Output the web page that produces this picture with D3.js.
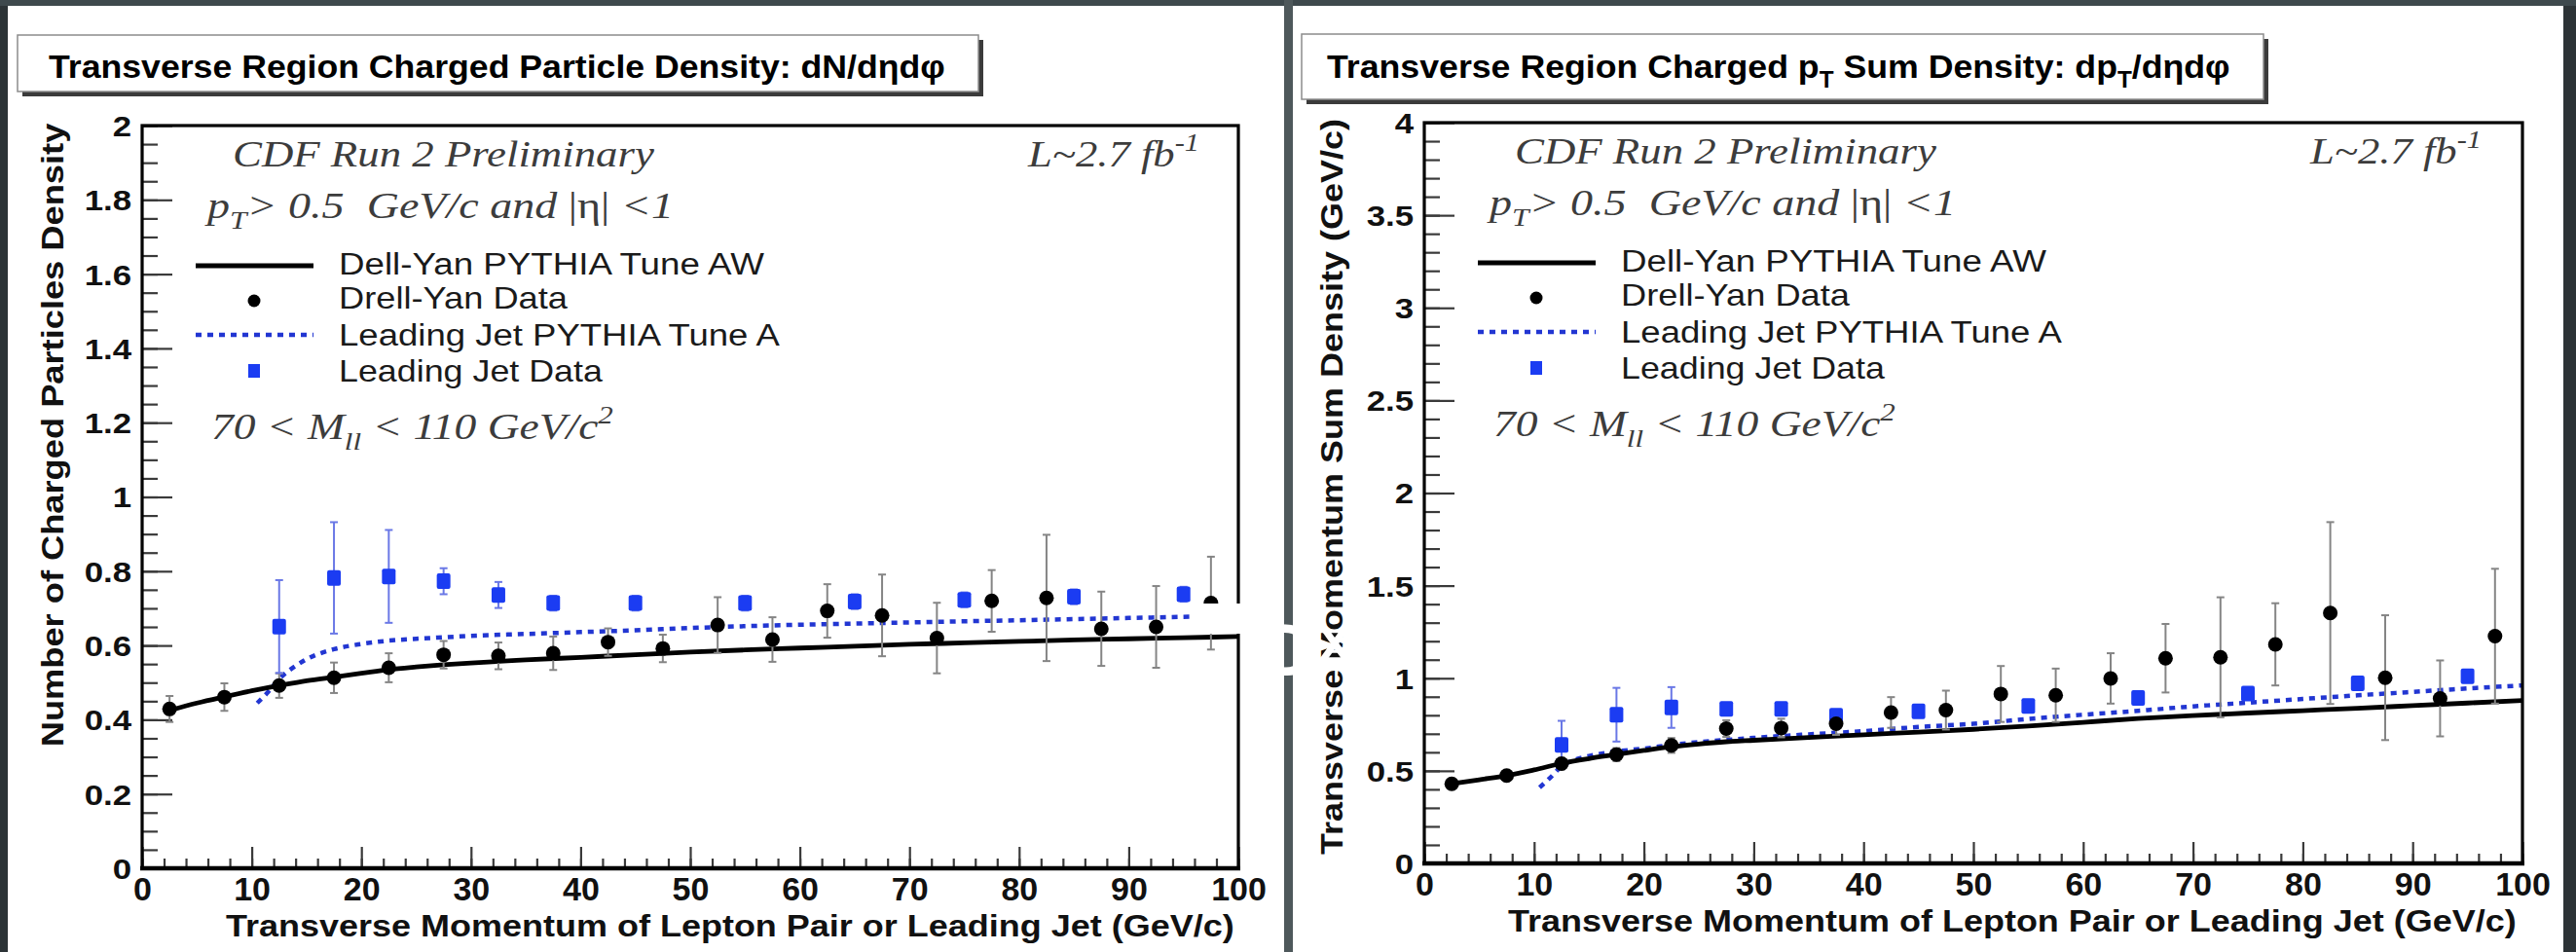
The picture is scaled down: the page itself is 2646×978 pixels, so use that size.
<!DOCTYPE html>
<html><head><meta charset="utf-8">
<script src="https://cdn.jsdelivr.net/npm/d3@7"></script>
<style>html,body{margin:0;padding:0;background:#2f3639;overflow:hidden}</style>
</head><body>
<svg id="c" width="2646" height="978"></svg>
<script>
// ---------------- DATA ----------------
const xTicks = [0, 10, 20, 30, 40, 50, 60, 70, 80, 90, 100];
const xTickLabels = ["0", "10", "20", "30", "40", "50", "60", "70", "80", "90", "100"];
const leftYTicks = [0, 0.2, 0.4, 0.6, 0.8, 1, 1.2, 1.4, 1.6, 1.8, 2];
const leftYTickLabels = ["0", "0.2", "0.4", "0.6", "0.8", "1", "1.2", "1.4", "1.6", "1.8", "2"];
const rightYTicks = [0, 0.5, 1, 1.5, 2, 2.5, 3, 3.5, 4];
const rightYTickLabels = ["0", "0.5", "1", "1.5", "2", "2.5", "3", "3.5", "4"];

const dyBinCenters = [2.5, 7.5, 12.5, 17.5, 22.5, 27.5, 32.5, 37.5, 42.5, 47.5, 52.5, 57.5, 62.5, 67.5, 72.5, 77.5, 82.5, 87.5, 92.5, 97.5];
const ljBinCenters = [12.5, 17.5, 22.5, 27.5, 32.5, 37.5, 45, 55, 65, 75, 85, 95];

// Left: charged particle density
const dyDensity    = [0.429, 0.461, 0.492, 0.513, 0.540, 0.575, 0.572, 0.579, 0.609, 0.592, 0.655, 0.616, 0.693, 0.681, 0.620, 0.720, 0.728, 0.645, 0.650, 0.714];
const dyDensityErr = [0.035, 0.037, 0.033, 0.041, 0.039, 0.037, 0.036, 0.045, 0.037, 0.037, 0.075, 0.060, 0.072, 0.110, 0.095, 0.083, 0.170, 0.100, 0.110, 0.125];
const ljDensity    = [0.651, 0.782, 0.786, 0.773, 0.736, 0.714, 0.714, 0.714, 0.718, 0.723, 0.731, 0.738];
const ljDensityErr = [0.125, 0.150, 0.125, 0.035, 0.035, 0.020, 0.020, 0.020, 0.020, 0.020, 0.020, 0.020];

// Right: charged pT sum density
const dySum    = [0.430, 0.474, 0.539, 0.588, 0.637, 0.728, 0.731, 0.754, 0.815, 0.828, 0.915, 0.908, 0.999, 1.108, 1.113, 1.183, 1.352, 1.003, 0.891, 1.227];
const dySumErr = [0.020, 0.020, 0.030, 0.035, 0.040, 0.045, 0.050, 0.060, 0.083, 0.105, 0.151, 0.144, 0.136, 0.185, 0.324, 0.222, 0.491, 0.337, 0.205, 0.364];
const ljSum    = [0.640, 0.803, 0.842, 0.835, 0.835, 0.798, 0.821, 0.850, 0.894, 0.917, 0.973, 1.011];
const ljSumErr = [0.130, 0.145, 0.110, 0.030, 0.030, 0.030, 0.020, 0.020, 0.020, 0.020, 0.020, 0.020];

// PYTHIA curves
const dyTuneX = [2.5, 5, 7.5, 10, 12.5, 15, 17.5, 20, 22.5, 25, 27.5, 30, 35, 40, 45, 50, 55, 60, 65, 70, 75, 80, 85, 90, 95, 100];
const dyTuneDensity = [0.425, 0.445, 0.462, 0.478, 0.492, 0.505, 0.515, 0.525, 0.535, 0.542, 0.548, 0.553, 0.561, 0.568, 0.575, 0.582, 0.588, 0.593, 0.598, 0.603, 0.607, 0.611, 0.615, 0.618, 0.621, 0.624];
const dyTuneSum = [0.430, 0.452, 0.474, 0.505, 0.540, 0.566, 0.588, 0.610, 0.630, 0.645, 0.657, 0.665, 0.680, 0.695, 0.709, 0.724, 0.742, 0.762, 0.782, 0.798, 0.812, 0.825, 0.838, 0.852, 0.866, 0.880];
const ljTuneX = [10.5, 11.5, 12.5, 14, 15, 17.5, 20, 22.5, 25, 27.5, 30, 35, 40, 45, 50, 55, 60, 65, 70, 75, 80, 85, 90, 95, 100];
const ljTuneDensity = [0.445, 0.475, 0.510, 0.545, 0.563, 0.590, 0.604, 0.613, 0.618, 0.622, 0.626, 0.631, 0.636, 0.641, 0.647, 0.652, 0.656, 0.659, 0.662, 0.665, 0.668, 0.671, 0.674, 0.677, 0.680];
const ljTuneSum = [0.410, 0.465, 0.525, 0.565, 0.580, 0.605, 0.620, 0.640, 0.655, 0.667, 0.678, 0.697, 0.714, 0.737, 0.754, 0.780, 0.803, 0.824, 0.848, 0.868, 0.888, 0.908, 0.926, 0.945, 0.961];

const legendLabels = ["Dell-Yan PYTHIA Tune AW", "Drell-Yan Data", "Leading Jet PYTHIA Tune A", "Leading Jet Data"];

// ---------------- DRAWING ----------------
const W = 2646, H = 978;
const SANS = "'Liberation Sans', Arial, Helvetica, sans-serif";
const SERIF = "'Liberation Serif', 'Times New Roman', serif";
const BLUE = "#1b3cf2", BLUE_LINE = "#2236d2", BLUE_ERR = "#6a78e6";
const svg = d3.select("#c");

svg.append("rect").attr("width", W).attr("height", H).attr("fill", "#2c3336");
svg.append("rect").attr("x", 0).attr("y", 0).attr("width", W).attr("height", 6).attr("fill", "#3e494d");
svg.append("rect").attr("x", 1319).attr("y", 0).attr("width", 9).attr("height", H).attr("fill", "#4e585b");
svg.append("rect").attr("x", 8).attr("y", 6).attr("width", 1311).attr("height", H - 6).attr("fill", "#fff");
svg.append("rect").attr("x", 1328).attr("y", 6).attr("width", 1305).attr("height", H - 6).attr("fill", "#fff");

function fitText(parent, parts, o) {
  const t = parent.append("text")
    .attr("font-family", o.family || SANS)
    .attr("font-size", o.size)
    .attr("font-weight", o.weight || "normal")
    .attr("font-style", o.style || "normal")
    .attr("fill", o.fill || "#000")
    .attr("text-anchor", o.anchor || "start")
    .style("white-space", "pre");
  let cur = 0;
  parts.forEach(p => {
    if (typeof p === "string") p = { t: p };
    const shift = p.sub ? o.size * 0.3 : (p.sup ? -o.size * 0.42 : 0);
    const ts = t.append("tspan").attr("dy", shift - cur).text(p.t);
    cur = shift;
    if (p.sub || p.sup) ts.attr("font-size", o.size * 0.68);
    if (p.style) ts.attr("font-style", p.style);
    if (p.family) ts.attr("font-family", p.family);
  });
  const w = t.node().getComputedTextLength();
  const sx = o.width ? o.width / w : 1;
  t.attr("transform", `translate(${o.x},${o.y})` + (o.rotate ? ` rotate(${o.rotate})` : "") + ` scale(${sx},1)`);
  return t;
}

function titleBox(x0, y0, x1, y1) {
  svg.append("rect").attr("x", x0 + 5).attr("y", y0 + 5).attr("width", x1 - x0).attr("height", y1 - y0).attr("fill", "#3b3b3b");
  svg.append("rect").attr("x", x0).attr("y", y0).attr("width", x1 - x0).attr("height", y1 - y0)
    .attr("fill", "#fff").attr("stroke", "#8c8c8c").attr("stroke-width", 1.5);
}

// Titles
titleBox(18, 36, 1005, 94);
fitText(svg, ["Transverse Region Charged Particle Density: dN/dηdφ"], { x: 50, y: 80, size: 34, weight: "bold", width: 921 });
titleBox(1337, 35, 2325, 102);
fitText(svg, ["Transverse Region Charged p", { t: "T", sub: true }, " Sum Density: dp", { t: "T", sub: true }, "/dηdφ"],
  { x: 1363, y: 80, size: 34, weight: "bold", width: 928 });

function drawPanel(cfg) {
  const g = svg.append("g");
  const x = d3.scaleLinear().domain([0, 100]).range([cfg.fx0, cfg.fx1]);
  const y = d3.scaleLinear().domain([0, cfg.yMax]).range([cfg.fy1, cfg.fy0]);
  const fx0 = cfg.fx0, fy0 = cfg.fy0;

  // axes: minor ticks
  const yMinor = d3.range(0, cfg.yMax + 1e-9, cfg.yMinorStep);
  const ayMinor = g.append("g").attr("transform", `translate(${fx0},0)`)
    .call(d3.axisLeft(y).tickValues(yMinor).tickSizeInner(-16).tickSizeOuter(0).tickFormat(""));
  const xMinor = d3.range(0, 100.001, 2);
  const axMinor = g.append("g").attr("transform", `translate(0,${cfg.fy1})`)
    .call(d3.axisBottom(x).tickValues(xMinor).tickSizeInner(-10).tickSizeOuter(0).tickFormat(""));
  // major
  const ay = g.append("g").attr("transform", `translate(${fx0},0)`)
    .call(d3.axisLeft(y).tickValues(cfg.yTicks).tickSizeInner(-31).tickSizeOuter(0).tickPadding(11)
      .tickFormat((d, i) => cfg.yTickLabels[i]));
  const ax = g.append("g").attr("transform", `translate(0,${cfg.fy1})`)
    .call(d3.axisBottom(x).tickValues(xTicks).tickSizeInner(-22).tickSizeOuter(0).tickPadding(9)
      .tickFormat((d, i) => xTickLabels[i]));
  [ayMinor, axMinor, ay, ax].forEach(a => {
    a.select(".domain").remove();
    a.selectAll(".tick line").attr("stroke", "#3a3a3a").attr("stroke-width", 2.2);
  });
  ay.selectAll(".tick text").attr("font-family", SANS).attr("font-weight", "bold").attr("font-size", 29)
    .attr("fill", "#111").attr("x", -11 / 1.2).attr("dy", "0.36em").attr("transform", "scale(1.2,1)");
  ax.selectAll(".tick text").attr("font-family", SANS).attr("font-weight", "bold").attr("font-size", 34)
    .attr("fill", "#111");

  // clip
  const cid = "clip" + cfg.id;
  svg.append("clipPath").attr("id", cid).append("rect")
    .attr("x", cfg.fx0).attr("y", cfg.fy0).attr("width", cfg.fx1 - cfg.fx0).attr("height", cfg.fy1 - cfg.fy0);
  const pg = g.append("g").attr("clip-path", `url(#${cid})`);

  const line = d3.line().x(d => x(d[0])).y(d => y(d[1])).curve(d3.curveMonotoneX);
  pg.append("path").datum(cfg.ljTuneX.map((v, i) => [v, cfg.ljTune[i]]))
    .attr("d", line).attr("fill", "none").attr("stroke", BLUE_LINE).attr("stroke-width", 4.5)
    .attr("stroke-dasharray", "6,6");
  pg.append("path").datum(cfg.dyTuneX.map((v, i) => [v, cfg.dyTune[i]]))
    .attr("d", line).attr("fill", "none").attr("stroke", "#000").attr("stroke-width", 4.8);

  function errBars(xs, vs, es, color) {
    xs.forEach((xv, i) => {
      const cx = x(xv), yt = y(vs[i] + es[i]), yb = y(vs[i] - es[i]);
      pg.append("line").attr("x1", cx).attr("x2", cx).attr("y1", yt).attr("y2", yb).attr("stroke", color).attr("stroke-width", 2);
      [yt, yb].forEach(yy => pg.append("line").attr("x1", cx - 4).attr("x2", cx + 4).attr("y1", yy).attr("y2", yy)
        .attr("stroke", color).attr("stroke-width", 2));
    });
  }
  errBars(dyBinCenters, cfg.dy, cfg.dyErr, "#858585");
  errBars(ljBinCenters, cfg.lj, cfg.ljErr, BLUE_ERR);

  pg.selectAll("rect.lj").data(ljBinCenters).enter().append("rect")
    .attr("x", d => x(d) - 7).attr("y", (d, i) => y(cfg.lj[i]) - 8).attr("width", 14).attr("height", 16)
    .attr("rx", 2).attr("fill", BLUE);
  pg.selectAll("circle.dy").data(dyBinCenters).enter().append("circle")
    .attr("cx", d => x(d)).attr("cy", (d, i) => y(cfg.dy[i])).attr("r", 7.5).attr("fill", "#000");

  // frame
  g.append("rect").attr("x", cfg.fx0).attr("y", cfg.fy0).attr("width", cfg.fx1 - cfg.fx0).attr("height", cfg.fy1 - cfg.fy0)
    .attr("fill", "none").attr("stroke", "#000").attr("stroke-width", 3.2);
  g.append("line").attr("x1", cfg.fx0 - 2).attr("x2", cfg.fx1 + 2).attr("y1", cfg.fy1).attr("y2", cfg.fy1)
    .attr("stroke", "#000").attr("stroke-width", 4.5);

  // annotations
  fitText(g, ["CDF Run 2 Preliminary"], { x: fx0 + 93, y: fy0 + 42, size: 38, family: SERIF, style: "italic", fill: "#3c3c3c", width: 433 });
  fitText(g, ["L~2.7 fb", { t: "-1", sup: true }], { x: fx0 + 910, y: fy0 + 42, size: 38, family: SERIF, style: "italic", fill: "#3c3c3c", width: 176 });
  fitText(g, ["p", { t: "T", sub: true }, "> 0.5  GeV/c and ", { t: "|η|", style: "normal" }, " <1"],
    { x: fx0 + 67, y: fy0 + 95, size: 38, family: SERIF, style: "italic", fill: "#3c3c3c", width: 479 });
  fitText(g, ["70 < M", { t: "ll", sub: true }, " < 110 GeV/c", { t: "2", sup: true }],
    { x: fx0 + 71, y: fy0 + 322, size: 38, family: SERIF, style: "italic", fill: "#3c3c3c", width: 413 });

  // legend
  const lx0 = fx0 + 55, lx1 = fx0 + 176, lmx = fx0 + 115, ltx = fx0 + 202;
  g.append("line").attr("x1", lx0).attr("x2", lx1).attr("y1", fy0 + 144).attr("y2", fy0 + 144).attr("stroke", "#000").attr("stroke-width", 5);
  g.append("circle").attr("cx", lmx).attr("cy", fy0 + 180).attr("r", 6.5).attr("fill", "#000");
  g.append("line").attr("x1", lx0).attr("x2", lx1).attr("y1", fy0 + 215).attr("y2", fy0 + 215).attr("stroke", BLUE_LINE)
    .attr("stroke-width", 4.5).attr("stroke-dasharray", "6,6");
  g.append("rect").attr("x", lmx - 6).attr("y", fy0 + 245).attr("width", 12).attr("height", 14).attr("fill", BLUE);
  const lw = [437, 235, 453, 271], lb = [153, 188, 226, 263];
  legendLabels.forEach((s, i) => fitText(g, [s], { x: ltx, y: fy0 + lb[i], size: 31, fill: "#1a1a1a", width: lw[i] }));

  // axis titles
  fitText(g, [cfg.yTitle], { x: cfg.yTitleX, y: cfg.yTitleY, size: 31, weight: "bold", anchor: "middle", rotate: -90, width: cfg.yTitleLen, fill: "#111" });
  fitText(g, ["Transverse Momentum of Lepton Pair or Leading Jet (GeV/c)"],
    { x: fx0 + 86, y: cfg.fy1 + 70, size: 32, weight: "bold", width: 1036, fill: "#111" });
}

drawPanel({
  id: "L", fx0: 146, fx1: 1272, fy0: 129, fy1: 892, yMax: 2, yMinorStep: 0.05,
  yTicks: leftYTicks, yTickLabels: leftYTickLabels,
  dy: dyDensity, dyErr: dyDensityErr, lj: ljDensity, ljErr: ljDensityErr,
  dyTuneX: dyTuneX, dyTune: dyTuneDensity, ljTuneX: ljTuneX, ljTune: ljTuneDensity,
  yTitle: "Number of Charged Particles Density", yTitleX: 65, yTitleY: 447, yTitleLen: 641
});
drawPanel({
  id: "R", fx0: 1463, fx1: 2591, fy0: 126, fy1: 887, yMax: 4, yMinorStep: 0.1,
  yTicks: rightYTicks, yTickLabels: rightYTickLabels,
  dy: dySum, dyErr: dySumErr, lj: ljSum, ljErr: ljSumErr,
  dyTuneX: dyTuneX, dyTune: dyTuneSum, ljTuneX: ljTuneX, ljTune: ljTuneSum,
  yTitle: "Transverse Momentum Sum Density (GeV/c)", yTitleX: 1379, yTitleY: 500, yTitleLen: 756
});

// white overlay glyphs (player controls) seen over the middle of the image
svg.append("rect").attr("x", 1222).attr("y", 620).attr("width", 54).attr("height", 31).attr("fill", "#fff");
svg.append("text").attr("x", 1296).attr("y", 694).attr("font-family", SANS).attr("font-weight", "bold")
  .attr("font-size", 76).attr("fill", "#fff").text("D");
svg.append("line").attr("x1", 1356).attr("y1", 640).attr("x2", 1386).attr("y2", 682).attr("stroke", "#fff").attr("stroke-width", 7);
svg.append("line").attr("x1", 1386).attr("y1", 640).attr("x2", 1356).attr("y2", 682).attr("stroke", "#fff").attr("stroke-width", 7);
</script>
</body></html>
